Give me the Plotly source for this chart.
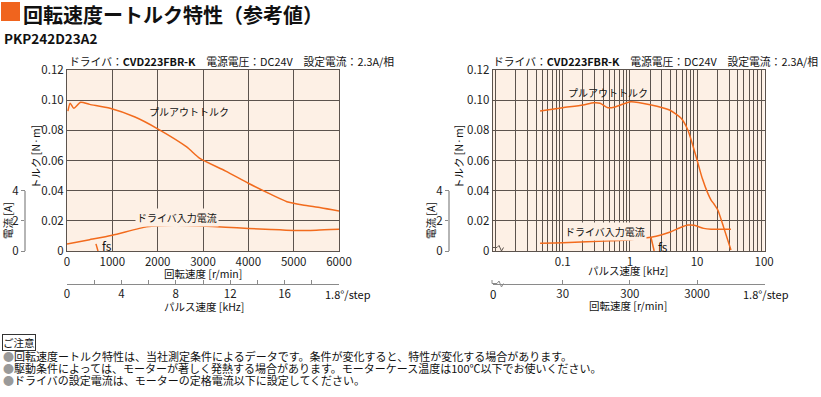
import math
import plotly.graph_objects as go

# ---------------- data ----------------
# Left chart: rotation speed [r/min]
rpm_torque_L = [20, 70, 150, 300, 500, 950, 1500, 2000, 2640, 2930, 3500, 4000, 4500, 4850, 5200, 5600, 6000]
torque_L = [0.0928, 0.0980, 0.0946, 0.0986, 0.0972, 0.0946, 0.0888, 0.0810, 0.0690, 0.0614, 0.0530,
            0.0449, 0.0375, 0.0327, 0.0305, 0.0287, 0.0265]
rpm_current_L = [0, 500, 1000, 1750, 2050, 2400, 2930, 3500, 4000, 4500, 5000, 5500, 6000]
current_L = [0.46, 0.75, 1.05, 1.60, 1.68, 1.70, 1.66, 1.58, 1.50, 1.42, 1.36, 1.38, 1.44]
fs_khz_L = [2.13, 2.28]
fs_torque_L = [0.0047, 0.0]

# Right chart: pulse speed [kHz] (log)
khz_torque_R = [0.046, 0.1, 0.2, 0.29, 0.36, 0.47, 0.6, 0.8, 1.03, 2.0, 3.9, 5.8, 7.3, 9.7, 12, 14.5, 16.2,
                18, 20.4, 25, 32]
torque_R = [0.0928, 0.0950, 0.0968, 0.0983, 0.0980, 0.0950, 0.0955, 0.0975, 0.0990, 0.0970, 0.0935, 0.0880,
            0.0802, 0.0625, 0.0480, 0.0382, 0.0338, 0.0310, 0.0272, 0.0155, 0.0007]
khz_current_R = [0.046, 0.1, 0.52, 1.0, 2.06, 3.0, 4.1, 5.8, 7.3, 9.1, 12.6, 16.2, 20, 32]
current_R = [0.51, 0.54, 0.68, 0.75, 0.91, 1.08, 1.28, 1.57, 1.72, 1.70, 1.50, 1.44, 1.44, 1.44]
fs_rpm_R = [618, 690]
fs_torque_R = [0.0091, 0.0]

# tick labels
rpm_ticks_L = [0, 1000, 2000, 3000, 4000, 5000, 6000]
khz_ticks_L = [0, 4, 8, 12, 16]
khz_minor_L = [2, 6, 10, 14, 18]
torque_ticks = [0, 0.02, 0.04, 0.06, 0.08, 0.10, 0.12]
torque_tick_text = ['0', '0.02', '0.04', '0.06', '0.08', '0.10', '0.12']
current_ticks = [0, 2, 4]
khz_ticks_R = [0.1, 1, 10, 100]
khz_tick_text_R = ['0.1', '1', '10', '100']
rpm_ticks_R = [30, 300, 3000]
rpm_tick_text_R = ['30', '300', '3000']

notes = [
    '回転速度ートルク特性は、当社測定条件によるデータです。条件が変化すると、特性が変化する場合があります。',
    '駆動条件によっては、モーターが著しく発熱する場合があります。モーターケース温度は100℃以下でお使いください。',
    'ドライバの設定電流は、モーターの定格電流以下に設定してください。',
]

# ---------------- style ----------------
W, H = 821, 397
def px(x):
    return x / W
def py(y):
    return 1 - y / H

ORANGE = '#F26B1D'
BG = '#FDF0E5'
GRID = '#5c534d'
AXG = '#8a8a8a'
NUMFAM = 'Liberation Sans Narrow, Arial Narrow, Noto Sans CJK JP, sans-serif'
NUMF = dict(family=NUMFAM, size=11.5, color='#222')
JPF = 'Noto Sans CJK JP, sans-serif'

fig = go.Figure()

# left traces
fig.add_trace(go.Scatter(x=rpm_torque_L, y=torque_L, mode='lines', xaxis='x', yaxis='y',
                         line=dict(color=ORANGE, width=1.5, shape='spline', smoothing=0.6),
                         hoverinfo='skip', showlegend=False))
fig.add_trace(go.Scatter(x=rpm_current_L, y=current_L, mode='lines', xaxis='x', yaxis='y3',
                         line=dict(color=ORANGE, width=1.5, shape='spline', smoothing=0.6),
                         hoverinfo='skip', showlegend=False))
fig.add_trace(go.Scatter(x=fs_khz_L, y=fs_torque_L, mode='lines', xaxis='x3', yaxis='y',
                         line=dict(color=ORANGE, width=1.5), hoverinfo='skip', showlegend=False))
# right traces
fig.add_trace(go.Scatter(x=khz_torque_R, y=torque_R, mode='lines', xaxis='x2', yaxis='y2',
                         line=dict(color=ORANGE, width=1.5, shape='spline', smoothing=0.6),
                         hoverinfo='skip', showlegend=False))
fig.add_trace(go.Scatter(x=khz_current_R, y=current_R, mode='lines', xaxis='x2', yaxis='y4',
                         line=dict(color=ORANGE, width=1.5, shape='spline', smoothing=0.6),
                         hoverinfo='skip', showlegend=False))
fig.add_trace(go.Scatter(x=fs_rpm_R, y=fs_torque_R, mode='lines', xaxis='x4', yaxis='y2',
                         line=dict(color=ORANGE, width=1.5), hoverinfo='skip', showlegend=False))

# log grid values for right chart
grid_R = []
for e in range(-2, 2):
    for m in range(1, 10):
        v = round(m * 10 ** e, 6)
        if v not in khz_ticks_R:
            grid_R.append(v)

LOG_RPM = math.log10(300)
xr_R = [-2.043, 2.005]

common = dict(automargin=False, fixedrange=True)

fig.update_layout(
    width=W, height=H,
    margin=dict(l=0, r=0, t=0, b=0, pad=0, autoexpand=False),
    paper_bgcolor='white', plot_bgcolor=BG,
    showlegend=False,
    xaxis=dict(domain=[px(67), px(339)], range=[0, 6000], anchor='y',
               tickvals=rpm_ticks_L, showgrid=True, gridcolor=GRID, gridwidth=1,
               showline=True, linecolor=GRID, linewidth=1, mirror=True, ticks='',
               zeroline=False, tickfont=NUMF, **common),
    yaxis=dict(domain=[py(251), py(70)], range=[0, 0.12], anchor='x',
               tickvals=torque_ticks, ticktext=torque_tick_text, showgrid=True, gridcolor=GRID,
               showline=True, linecolor=GRID, mirror=True, ticks='', zeroline=False, tickfont=NUMF,
               **common),
    yaxis3=dict(overlaying='y', anchor='free', position=px(25), side='left', range=[0, 12],
                tickvals=current_ticks, ticks='outside', ticklen=4, tickcolor=AXG,
                showgrid=False, showline=False, zeroline=False, tickfont=NUMF, **common),
    xaxis3=dict(overlaying='x', anchor='free', position=py(283.5), side='bottom', range=[0, 20],
                tickvals=khz_ticks_L, ticks='inside', ticklen=4, tickcolor=AXG,
                minor=dict(tickvals=khz_minor_L, ticks='inside', ticklen=4, tickcolor=AXG),
                showline=True, linecolor=AXG, linewidth=1, showgrid=False, zeroline=False,
                tickfont=NUMF, **common),
    xaxis2=dict(type='log', domain=[px(492.7), px(764.5)], range=xr_R, anchor='y2',
                tickvals=khz_ticks_R, ticktext=khz_tick_text_R, showgrid=True, gridcolor=GRID,
                minor=dict(tickvals=grid_R, showgrid=True, gridcolor=GRID, gridwidth=1, ticks=''),
                showline=True, linecolor=GRID, mirror=True, ticks='', zeroline=False, tickfont=NUMF,
                **common),
    yaxis2=dict(domain=[py(251), py(70)], range=[0, 0.12], anchor='x2',
                tickvals=torque_ticks, ticktext=torque_tick_text, showgrid=True, gridcolor=GRID,
                showline=True, linecolor=GRID, mirror=True, ticks='', zeroline=False, tickfont=NUMF,
                **common),
    yaxis4=dict(overlaying='y2', anchor='free', position=px(449), side='left', range=[0, 12],
                tickvals=current_ticks, ticks='outside', ticklen=4, tickcolor=AXG,
                showgrid=False, showline=False, zeroline=False, tickfont=NUMF, **common),
    xaxis4=dict(overlaying='x2', type='log', anchor='free', position=py(283.5), side='bottom',
                range=[xr_R[0] + LOG_RPM, xr_R[1] + LOG_RPM],
                tickvals=rpm_ticks_R, ticktext=rpm_tick_text_R, ticks='inside', ticklen=4,
                tickcolor=AXG, showline=True, linecolor=AXG, showgrid=False, zeroline=False,
                tickfont=NUMF, **common),
)

shapes = []
# title square
shapes.append(dict(type='rect', xref='paper', yref='paper', x0=px(1), x1=px(20), y0=py(21), y1=py(2),
                   fillcolor='#F0641E', line=dict(width=0)))
# current axis lines
for xx in (25, 449):
    shapes.append(dict(type='line', xref='paper', yref='paper', x0=px(xx), x1=px(xx), y0=py(251), y1=py(191),
                       line=dict(color='#b5b5b5', width=2)))

def path(points):
    return 'M ' + ' L '.join(f'{px(a):.5f},{py(b):.5f}' for a, b in points)

# axis break marks on right chart
shapes.append(dict(type='path', xref='paper', yref='paper',
                   path=path([(493, 247.5), (497, 247.5), (499, 245.5), (501.5, 251), (503.5, 247.5)]),
                   line=dict(color=GRID, width=1)))
shapes.append(dict(type='path', xref='paper', yref='paper',
                   path=path([(492, 280), (492, 283.5), (497, 283.5), (499, 281), (501.5, 287), (503.5, 283.5)]),
                   line=dict(color=AXG, width=1)))
fig.update_layout(shapes=shapes)

ann = []
def text(x, y, s, size=11, xanchor='left', yanchor='middle', color='#111', angle=0, font=JPF, **kw):
    ann.append(dict(x=px(x), y=py(y), xref='paper', yref='paper', text=s, showarrow=False,
                    xanchor=xanchor, yanchor=yanchor, textangle=angle,
                    font=dict(family=font, size=size, color=color), **kw))

text(21, 14.5, '<b>回転速度ートルク特性（参考値）</b>', size=20)
text(2, 38, '<b>PKP242D23A2</b>', size=13.5)

header = 'ドライバ：<b>CVD223FBR-K</b>　電源電圧：DC24V　設定電流：2.3A/相'
text(67, 61, header, size=10.8)
text(491, 61, header, size=10.8)

# in-chart labels
text(147, 111, 'プルアウトトルク', size=10)
text(566, 92, 'プルアウトトルク', size=10)
text(135, 217, 'ドライバ入力電流', size=10, bgcolor=BG)
text(563, 231, 'ドライバ入力電流', size=10, bgcolor=BG)
text(100, 245, 'fs', size=12, font=NUMFAM)
text(656, 246, 'fs', size=12, font=NUMFAM)

# axis titles
text(36, 157, 'トルク [N·m]', size=10.5, xanchor='center', angle=-90)
text(7, 221, '電流 [A]', size=10.5, xanchor='center', angle=-90)
text(459, 157, 'トルク [N·m]', size=10.5, xanchor='center', angle=-90)
text(430, 221, '電流 [A]', size=10.5, xanchor='center', angle=-90)
text(203, 273, '回転速度 [r/min]', size=10.5, xanchor='center')
text(204, 306, 'パルス速度 [kHz]', size=10.5, xanchor='center')
text(628, 270, 'パルス速度 [kHz]', size=10.5, xanchor='center')
text(628, 305, '回転速度 [r/min]', size=10.5, xanchor='center')
text(348, 294, '1.8°/step', size=11, xanchor='center', font=NUMFAM)
text(766, 294, '1.8°/step', size=11, xanchor='center', font=NUMFAM)
text(493, 294, '0', size=11.5, xanchor='center', font=NUMFAM)

# notes
ann.append(dict(x=px(2), y=py(342), xref='paper', yref='paper', text='ご注意', showarrow=False,
                xanchor='left', yanchor='middle', font=dict(family=JPF, size=10.5, color='#111'),
                bordercolor='#333', borderwidth=1, borderpad=0, bgcolor='white'))
for i, n in enumerate(notes):
    text(1, 356 + 12 * i, '<span style="color:#9a9a9a">●</span>' + n, size=11)

fig.update_layout(annotations=ann)
fig.write_html('out.html', config={'displayModeBar': False},
               post_script="document.body.style.margin='0';document.body.style.overflow='hidden';")
